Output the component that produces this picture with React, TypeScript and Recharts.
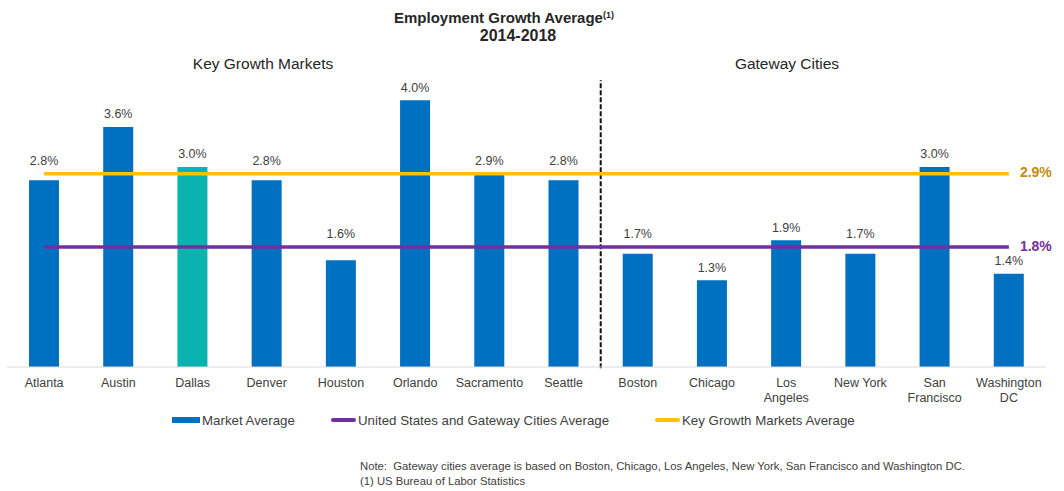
import {
  ComposedChart,
  Bar,
  Line,
  XAxis,
  YAxis,
  Cell,
  LabelList,
  ReferenceLine,
} from 'recharts'

const categories = [
  'Atlanta', 'Austin', 'Dallas', 'Denver', 'Houston', 'Orlando', 'Sacramento', 'Seattle',
  'Boston', 'Chicago', 'Los\nAngeles', 'New York', 'San\nFrancisco', 'Washington\nDC',
]
const marketAvg = [2.8, 3.6, 3.0, 2.8, 1.6, 4.0, 2.9, 2.8, 1.7, 1.3, 1.9, 1.7, 3.0, 1.4]
const KEY_GROWTH_AVG = 2.9
const US_GATEWAY_AVG = 1.8
const HIGHLIGHT = 'Dallas'
const DIVIDER_AFTER = 'Seattle'

const BLUE = '#0070C0'
const TEAL = '#0BB3B0'
const PURPLE = '#7030A0'
const YELLOW = '#FFC000'
const GOLD = '#C58A0A'
const TEXT = '#404040'
const FONT = '"Liberation Sans", Arial, sans-serif'

const data = categories.map((name, i) => ({
  name,
  value: marketAvg[i],
  keyAvg: KEY_GROWTH_AVG,
  usAvg: US_GATEWAY_AVG,
}))

const lastIdx = data.length - 1

// value labels move above an average line when they would sit on it
function BarLabel(props: any) {
  const { x, y, width, height, value } = props
  if (value == null || !height) return null
  const base = y + height
  const pxPerUnit = height / value
  let ty = y - 12
  for (const lv of [KEY_GROWTH_AVG, US_GATEWAY_AVG]) {
    const ly = base - lv * pxPerUnit
    if (ly >= ty - 8 && ly <= y + 2) ty = Math.min(ty, ly - 12)
  }
  return (
    <text x={x + width / 2} y={ty} textAnchor="middle" dominantBaseline="middle"
      fontSize={12.5} fill={TEXT} fontFamily={FONT}>
      {Number(value).toFixed(1)}%
    </text>
  )
}

const endLabel = (color: string) => (props: any) => {
  const { x, y, index, value } = props
  if (index !== lastIdx) return null
  return (
    <text x={x + 11} y={y} dominantBaseline="middle" fontSize={14} fontWeight="bold"
      fill={color} fontFamily={FONT}>
      {Number(value).toFixed(1)}%
    </text>
  )
}

function CategoryTick(props: any) {
  const { x, y, payload } = props
  const lines = String(payload.value).split('\n')
  return (
    <text x={x} y={y + 12} textAnchor="middle" fontSize={12.5} fill={TEXT} fontFamily={FONT}>
      {lines.map((l, i) => (
        <tspan key={i} x={x} dy={i === 0 ? 0 : 15}>{l}</tspan>
      ))}
    </text>
  )
}

const legendItems = [
  { label: 'Market Average', color: BLUE, left: 172, w: 28, h: 6 },
  { label: 'United States and Gateway Cities Average', color: PURPLE, left: 331, w: 25, h: 4 },
  { label: 'Key Growth Markets Average', color: YELLOW, left: 655, w: 25, h: 4 },
]

export default function App() {
  return (
    <div style={{ position: 'absolute', left: 0, top: 0, width: 1064, height: 491, background: '#fff', fontFamily: FONT }}>
      <div style={{ position: 'absolute', left: 0, width: 1064, top: 9, textAlign: 'center', fontWeight: 'bold', color: '#262626', lineHeight: '18px' }}>
        <div style={{ fontSize: 15, paddingRight: 56 }}>Employment Growth Average<sup style={{ fontSize: 9, verticalAlign: 'top', lineHeight: '12px' }}>(1)</sup></div>
        <div style={{ fontSize: 16, paddingRight: 28 }}>2014-2018</div>
      </div>
      <div style={{ position: 'absolute', left: 113, width: 300, top: 55, textAlign: 'center', fontSize: 15.5, color: '#262626' }}>Key Growth Markets</div>
      <div style={{ position: 'absolute', left: 637, width: 300, top: 55, textAlign: 'center', fontSize: 15.5, color: '#262626' }}>Gateway Cities</div>

      <ComposedChart width={1064} height={491} data={data}
        margin={{ top: 67, right: 18, bottom: 84, left: 7 }}
        style={{ position: 'absolute', left: 0, top: 0 }}>
        <XAxis dataKey="name" height={40} interval={0} tickLine={false}
          axisLine={{ stroke: '#D9D9D9' }} tick={<CategoryTick />} />
        <YAxis hide domain={[0, 4.5]} />
        <Bar dataKey="value" barSize={30} isAnimationActive={false}>
          {data.map((d) => (
            <Cell key={d.name} fill={d.name === HIGHLIGHT ? TEAL : BLUE} />
          ))}
          <LabelList dataKey="value" content={BarLabel} />
        </Bar>
        <ReferenceLine
          segment={[{ x: DIVIDER_AFTER, y: -0.02 }, { x: DIVIDER_AFTER, y: 4.3 }]}
          position="end" stroke="#111" strokeWidth={2} strokeDasharray="5 2" ifOverflow="visible" />
        <Line dataKey="usAvg" stroke={PURPLE} strokeWidth={3.5} dot={false} isAnimationActive={false}>
          <LabelList dataKey="usAvg" content={endLabel(PURPLE)} />
        </Line>
        <Line dataKey="keyAvg" stroke={YELLOW} strokeWidth={3.5} dot={false} isAnimationActive={false}>
          <LabelList dataKey="keyAvg" content={endLabel(GOLD)} />
        </Line>
      </ComposedChart>

      {legendItems.map((it) => (
        <div key={it.label} style={{ position: 'absolute', left: it.left, top: 412, display: 'flex', alignItems: 'center', fontSize: 13.3, color: TEXT, height: 16 }}>
          <span style={{ display: 'inline-block', width: it.w, height: it.h, background: it.color, borderRadius: it.h > 5 ? 0 : 2, marginRight: 2 }} />
          <span>{it.label}</span>
        </div>
      ))}

      <div style={{ position: 'absolute', left: 360, top: 459, fontSize: 11.3, color: TEXT, lineHeight: '15px' }}>
        <div>Note:&nbsp; Gateway cities average is based on Boston, Chicago, Los Angeles, New York, San Francisco and Washington DC.</div>
        <div>(1) US Bureau of Labor Statistics</div>
      </div>
    </div>
  )
}
